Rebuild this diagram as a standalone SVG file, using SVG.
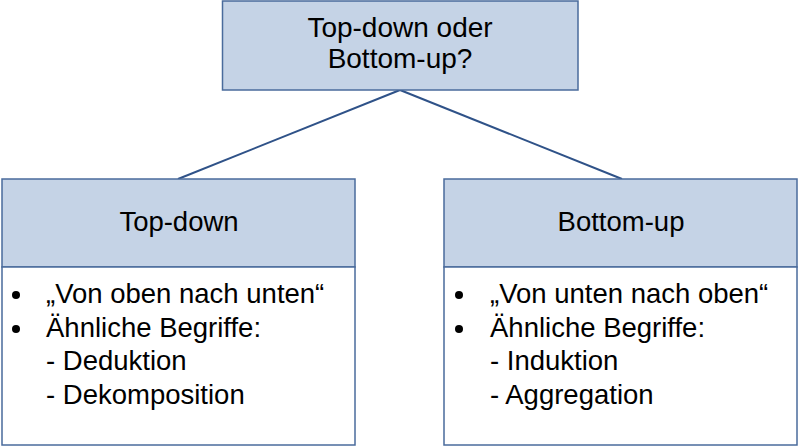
<svg xmlns="http://www.w3.org/2000/svg" width="800" height="446" viewBox="0 0 800 446">
<style>
.hdr{fill:#c5d3e6;stroke:#4a6b9c;stroke-width:1.5}
.body{fill:#ffffff;stroke:#4a6b9c;stroke-width:1.5}
.t{font-family:"Liberation Sans",Arial,sans-serif;font-size:27.5px;fill:#000}
.big{font-size:28px}
.c{text-anchor:middle}
.conn{stroke:#2f5288;stroke-width:2;fill:none}
</style>
<rect width="800" height="446" fill="#ffffff"/>
<g id="connectors">
<line class="conn" x1="400" y1="90" x2="178" y2="179"/>
<line class="conn" x1="400" y1="90" x2="622" y2="179"/>
</g>
<g id="root">
<rect class="hdr" x="222.5" y="1" width="355.5" height="89"/>
<text class="t big c" x="400" y="37">Top-down oder</text>
<text class="t big c" x="400" y="68">Bottom-up?</text>
</g>
<g id="topdown">
<rect class="hdr" x="2" y="179" width="353" height="88"/>
<rect class="body" x="2" y="267" width="353" height="178"/>
<text class="t c" x="179" y="231">Top-down</text>
<circle cx="16" cy="295" r="4"/>
<circle cx="16" cy="329" r="4"/>
<text class="t" x="46" y="303">„Von oben nach unten“</text>
<text class="t" x="46" y="337">Ähnliche Begriffe:</text>
<text class="t" x="46" y="370">- Deduktion</text>
<text class="t" x="46" y="404">- Dekomposition</text>
</g>
<g id="bottomup">
<rect class="hdr" x="444" y="179" width="353" height="88"/>
<rect class="body" x="444" y="267" width="353" height="178"/>
<text class="t c" x="621" y="231">Bottom-up</text>
<circle cx="459" cy="295" r="4"/>
<circle cx="459" cy="329" r="4"/>
<text class="t" x="490" y="303">„Von unten nach oben“</text>
<text class="t" x="490" y="337">Ähnliche Begriffe:</text>
<text class="t" x="490" y="370">- Induktion</text>
<text class="t" x="490" y="404">- Aggregation</text>
</g>
</svg>
